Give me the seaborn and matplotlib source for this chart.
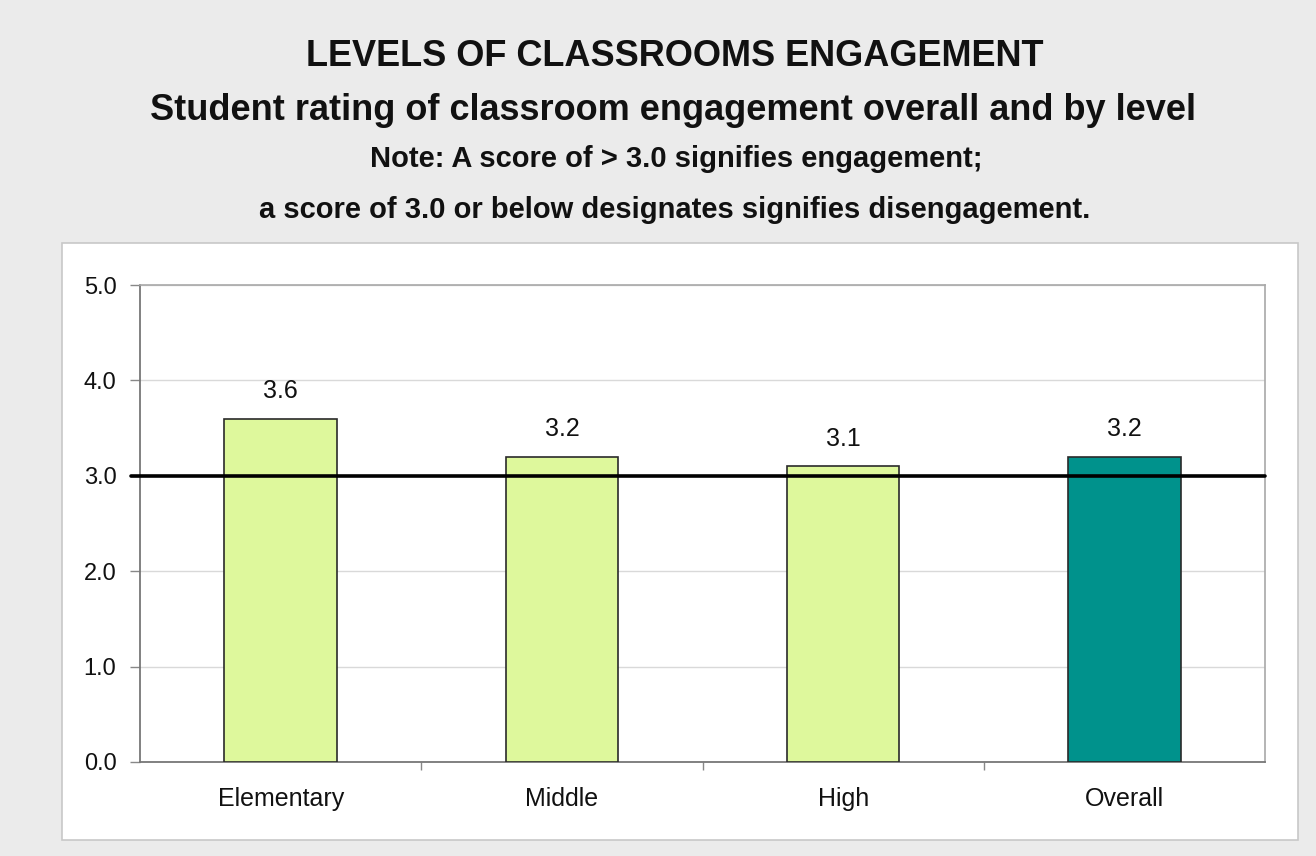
import matplotlib
matplotlib.use("Agg")
import matplotlib.pyplot as plt
import seaborn as sns
import pandas as pd
from matplotlib.patches import Rectangle
from matplotlib.ticker import FixedLocator

# Data
LEVELS = ["Elementary", "Middle", "High", "Overall"]
SCORES = [3.6, 3.2, 3.1, 3.2]
BAR_COLORS = ["#def89c", "#def89c", "#def89c", "#00928c"]
THRESHOLD = 3.0
Y_TICKS = [0.0, 1.0, 2.0, 3.0, 4.0, 5.0]

TITLE = "LEVELS OF CLASSROOMS ENGAGEMENT"
SUBTITLE = "Student rating of classroom engagement overall and by level"
NOTE_1 = "Note: A score of > 3.0 signifies engagement;"
NOTE_2 = "a score of 3.0 or below designates signifies disengagement."

sns.set_theme(style="white")
plt.rcParams["font.family"] = ["Liberation Sans", "DejaVu Sans"]

df = pd.DataFrame({"level": LEVELS, "score": SCORES})

fig = plt.figure(figsize=(13.16, 8.56), dpi=100, facecolor="#ebebeb")

# white chart panel behind the plot area
fig.patches.append(Rectangle((62 / 1316, 1 - 840 / 856), (1298 - 62) / 1316, (840 - 243) / 856,
                             transform=fig.transFigure, facecolor="white",
                             edgecolor="#c8c8c8", linewidth=1.2, zorder=-5))

ax = fig.add_axes([140 / 1316, 1 - 762 / 856, (1265 - 140) / 1316, (762 - 285) / 856])
ax.set_facecolor("white")

sns.barplot(data=df, x="level", y="score", hue="level", palette=BAR_COLORS,
            legend=False, width=0.4, edgecolor="#2a2a2a", linewidth=1.2,
            saturation=1, ax=ax, zorder=3)

for c in ax.containers:
    ax.bar_label(c, fmt="%.1f", padding=11, fontsize=18, color="#111111")

ax.axhline(THRESHOLD, xmin=-0.008, xmax=1, color="black", linewidth=2.6,
           clip_on=False, zorder=4)

ax.set_xlim(-0.5, len(LEVELS) - 0.5)
ax.set_ylim(0, 5)
ax.set_yticks(Y_TICKS)
ax.set_yticklabels([f"{t:.1f}" for t in Y_TICKS])
ax.yaxis.grid(True, color="#d9d9d9", linewidth=1.0)
ax.set_axisbelow(True)

ax.xaxis.set_minor_locator(FixedLocator([0.5, 1.5, 2.5]))
ax.tick_params(axis="x", which="major", length=0, pad=18, labelsize=18, colors="#111111")
ax.tick_params(axis="x", which="minor", bottom=True, length=6, width=1, color="#888888")
ax.tick_params(axis="y", left=True, length=7, width=1, color="#888888", pad=10,
               labelsize=17, labelcolor="#111111")

for side in ["left", "bottom"]:
    ax.spines[side].set_color("#777777")
    ax.spines[side].set_linewidth(1.3)
for side in ["right", "top"]:
    ax.spines[side].set_visible(True)
    ax.spines[side].set_color("#a8a8a8")
    ax.spines[side].set_linewidth(1.2)

ax.set_xlabel("")
ax.set_ylabel("")

fig.text(675 / 1316, 1 - 56 / 856, TITLE, ha="center", va="center",
         fontsize=26, fontweight="bold", color="#111111")
fig.text(673 / 1316, 1 - 110 / 856, SUBTITLE, ha="center", va="center",
         fontsize=26, fontweight="bold", color="#111111")
fig.text(676 / 1316, 1 - 159 / 856, NOTE_1, ha="center", va="center",
         fontsize=21, fontweight="bold", color="#111111")
fig.text(675 / 1316, 1 - 210 / 856, NOTE_2, ha="center", va="center",
         fontsize=21, fontweight="bold", color="#111111")

fig.savefig("out.png", dpi=100, facecolor=fig.get_facecolor())
